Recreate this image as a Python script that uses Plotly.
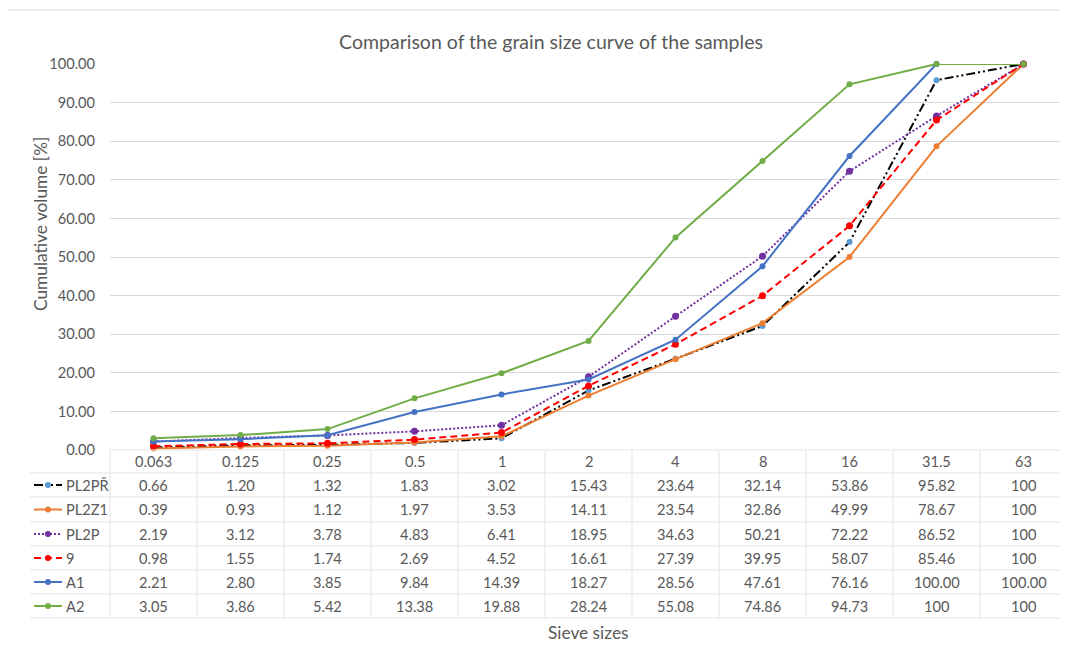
import plotly.graph_objects as go

categories = ["0.063", "0.125", "0.25", "0.5", "1", "2", "4", "8", "16", "31.5", "63"]

series_names = ["PL2PŘ", "PL2Z1", "PL2P", "9", "A1", "A2"]
pl2pr = [0.66, 1.20, 1.32, 1.83, 3.02, 15.43, 23.64, 32.14, 53.86, 95.82, 100]
pl2z1 = [0.39, 0.93, 1.12, 1.97, 3.53, 14.11, 23.54, 32.86, 49.99, 78.67, 100]
pl2p = [2.19, 3.12, 3.78, 4.83, 6.41, 18.95, 34.63, 50.21, 72.22, 86.52, 100]
s9 = [0.98, 1.55, 1.74, 2.69, 4.52, 16.61, 27.39, 39.95, 58.07, 85.46, 100]
a1 = [2.21, 2.80, 3.85, 9.84, 14.39, 18.27, 28.56, 47.61, 76.16, 100.00, 100.00]
a2 = [3.05, 3.86, 5.42, 13.38, 19.88, 28.24, 55.08, 74.86, 94.73, 100, 100]

# table text as shown in the reference
table_text = [
    ["0.66", "1.20", "1.32", "1.83", "3.02", "15.43", "23.64", "32.14", "53.86", "95.82", "100"],
    ["0.39", "0.93", "1.12", "1.97", "3.53", "14.11", "23.54", "32.86", "49.99", "78.67", "100"],
    ["2.19", "3.12", "3.78", "4.83", "6.41", "18.95", "34.63", "50.21", "72.22", "86.52", "100"],
    ["0.98", "1.55", "1.74", "2.69", "4.52", "16.61", "27.39", "39.95", "58.07", "85.46", "100"],
    ["2.21", "2.80", "3.85", "9.84", "14.39", "18.27", "28.56", "47.61", "76.16", "100.00", "100.00"],
    ["3.05", "3.86", "5.42", "13.38", "19.88", "28.24", "55.08", "74.86", "94.73", "100", "100"],
]

series_values = [pl2pr, pl2z1, pl2p, s9, a1, a2]
line_colors = ["#000000", "#ED7D31", "#7030A0", "#FF0000", "#4472C4", "#70AD47"]
marker_colors = ["#5B9BD5", "#ED7D31", "#7030A0", "#FF0000", "#4472C4", "#70AD47"]
dashes = ["9px,3px,2px,3px,2px,3px", "solid", "2px,2px", "7px,4px", "solid", "solid"]
marker_sizes = [6, 6, 7, 7, 6, 6]

# the page body has an 8px margin; the figure is sized to fill the rest of the window
OFF = 8
W, H = 1068 - OFF, 648 - OFF
FONT = "Lato"
GREY = "#595959"
GRID = "#D9D9D9"

# layout positions given in window pixels
X0, X1 = 110, 1067
Y_TOP, Y_BOT = 64, 450


def px(x):
    return (x - OFF) / W


def py(y):
    return 1 - (y - OFF) / H


fig = go.Figure()
idx = list(range(len(categories)))
for name, vals, lc, mc, d, ms in zip(series_names, series_values, line_colors, marker_colors, dashes, marker_sizes):
    fig.add_trace(go.Scatter(
        x=idx, y=vals, name=name, mode="lines+markers",
        line=dict(color=lc, width=2, dash=d),
        marker=dict(color=mc, size=ms, line=dict(width=0)),
        cliponaxis=False, showlegend=False,
    ))

shapes = []
annotations = []

# chart border
shapes.append(dict(type="rect", xref="paper", yref="paper", x0=px(7), x1=px(1066), y0=py(10), y1=py(660),
                   line=dict(color=GRID, width=1), layer="below"))

# table geometry
ncol = len(categories)
colw = (X1 - X0) / ncol
row_lines = [450, 473, 497, 522, 546, 570, 594, 618]
header_y = (row_lines[0] + row_lines[1]) / 2
for i, yl in enumerate(row_lines):
    x_start = X0 if i == 0 else 30
    shapes.append(dict(type="line", xref="paper", yref="paper", x0=px(x_start), x1=px(X1),
                       y0=py(yl), y1=py(yl), line=dict(color="#E3E3E3", width=1)))
for c in range(ncol + 1):
    xv = X0 + c * colw
    shapes.append(dict(type="line", xref="paper", yref="paper", x0=px(xv), x1=px(xv),
                       y0=py(450), y1=py(618), line=dict(color="#E3E3E3", width=1)))

TFS = 14.6
for c, cat in enumerate(categories):
    annotations.append(dict(x=c, xref="x", y=py(header_y), yref="paper", text=cat, showarrow=False,
                            xanchor="center", yanchor="middle", font=dict(family=FONT, size=TFS, color=GREY)))

for r, (name, row) in enumerate(zip(series_names, table_text)):
    yc = (row_lines[r + 1] + row_lines[r + 2]) / 2
    for c, t in enumerate(row):
        annotations.append(dict(x=c, xref="x", y=py(yc), yref="paper", text=t, showarrow=False,
                                xanchor="center", yanchor="middle", font=dict(family=FONT, size=TFS, color=GREY)))
    annotations.append(dict(x=px(64), xref="paper", y=py(yc), yref="paper", text=name, showarrow=False,
                            xanchor="left", yanchor="middle", font=dict(family=FONT, size=TFS, color=GREY)))
    shapes.append(dict(type="line", xref="paper", yref="paper", x0=px(34), x1=px(62), y0=py(yc), y1=py(yc),
                       line=dict(color=line_colors[r], width=2, dash=dashes[r])))
    rr = 3
    shapes.append(dict(type="circle", xref="paper", yref="paper", x0=px(48 - rr), x1=px(48 + rr),
                       y0=py(yc - rr), y1=py(yc + rr), fillcolor=marker_colors[r], line=dict(width=0)))

annotations.append(dict(x=px(40), xref="paper", y=py(224), yref="paper", text="Cumulative volume [%]",
                        textangle=-90, showarrow=False, xanchor="center", yanchor="middle",
                        font=dict(family=FONT, size=17.3, color=GREY)))
annotations.append(dict(x=px((X0 + X1) / 2), xref="paper", y=py(632), yref="paper", text="Sieve sizes",
                        showarrow=False, xanchor="center", yanchor="middle",
                        font=dict(family=FONT, size=17.3, color=GREY)))

fig.update_layout(
    width=W, height=H,
    margin=dict(l=0, r=0, t=0, b=0, pad=0, autoexpand=False),
    paper_bgcolor="white", plot_bgcolor="white",
    title=dict(text="Comparison of the grain size curve of the samples", x=px(551), xanchor="center",
               y=py(42), yanchor="middle", xref="paper", yref="paper", automargin=False,
               font=dict(family=FONT, size=19.5, color=GREY)),
    xaxis=dict(domain=[px(X0), px(X1)], range=[-0.5, ncol - 0.5], showticklabels=False, showgrid=False,
               zeroline=False, showline=False, ticks="", fixedrange=True, automargin=False),
    yaxis=dict(domain=[py(Y_BOT), py(Y_TOP)], range=[0, 100], dtick=10, tickformat=".2f",
               showgrid=True, gridcolor=GRID, gridwidth=1, zeroline=False, showline=False, ticks="",
               ticklabelstandoff=14, automargin=False, tickfont=dict(family=FONT, size=TFS, color=GREY)),
    shapes=shapes,
    annotations=annotations,
)

fig.write_html("out.html")
